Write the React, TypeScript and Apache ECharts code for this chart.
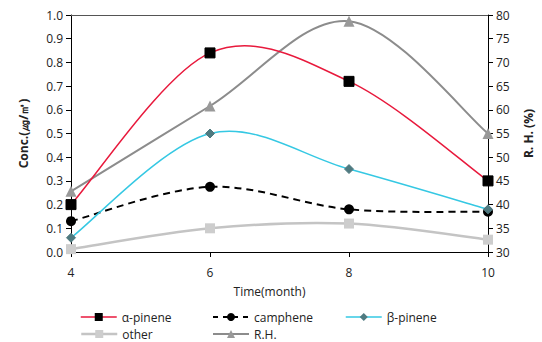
import React, { useEffect, useRef } from "react";
import * as echarts from "echarts";

const months = ["4", "6", "8", "10"];
const alphaPinene = [0.2, 0.84, 0.72, 0.3];
const camphene = [0.13, 0.275, 0.18, 0.17];
const betaPinene = [0.06, 0.5, 0.35, 0.18];
const other = [0.012, 0.1, 0.12, 0.052];
const rh = [42.8, 60.8, 78.7, 55];

const FONT = "'Open Sans', 'Liberation Sans', sans-serif";

// Catmull-Rom style smoothing (like spreadsheet smoothed lines), drawn through the axis scales
function smoothCurve(values: number[], yAxisIndex: number, lineStyle: any, z: number) {
  return {
    type: "custom",
    yAxisIndex,
    silent: true,
    z,
    data: [0],
    encode: { x: -1, y: -1 },
    legendHoverLink: false,
    renderItem: (_params: any, api: any) => {
      const pts = values.map((v, i) => api.coord([i, v]));
      const n = pts.length;
      let d = `M${pts[0][0]},${pts[0][1]}`;
      for (let i = 0; i < n - 1; i++) {
        const p0 = pts[Math.max(0, i - 1)];
        const p1 = pts[i];
        const p2 = pts[i + 1];
        const p3 = pts[Math.min(n - 1, i + 2)];
        const c1x = p1[0] + (p2[0] - p0[0]) / 6;
        const c1y = p1[1] + (p2[1] - p0[1]) / 6;
        const c2x = p2[0] - (p3[0] - p1[0]) / 6;
        const c2y = p2[1] - (p3[1] - p1[1]) / 6;
        d += ` C${c1x},${c1y} ${c2x},${c2y} ${p2[0]},${p2[1]}`;
      }
      return {
        type: "path",
        shape: { pathData: d },
        style: { fill: "none", stroke: lineStyle.color, lineWidth: lineStyle.width, lineDash: lineStyle.dash || null },
      };
    },
  };
}

const alphaLine = { color: "#e8193c", width: 1.5 };
const campheneLine = { color: "#000", width: 2, dash: [7, 5] };
const betaLine = { color: "#35c8e3", width: 1.5 };
const otherLine = { color: "#c4c4c4", width: 2.5 };
const rhLine = { color: "#8c8c8c", width: 2 };

export default function App() {
  const ref = useRef<HTMLDivElement>(null);
  useEffect(() => {
    if (!ref.current) return;
    const chart = echarts.init(ref.current, undefined, { renderer: "svg" });
    const legendBase = {
      orient: "horizontal" as const,
      itemWidth: 36,
      itemHeight: 10,
      itemGap: 6,
      textStyle: { fontFamily: FONT, fontSize: 12, lineHeight: 12, color: "#222" },
      padding: 0,
    };
    const li = (name: string, ls: any) => ({
      name,
      lineStyle: { color: ls.color, width: ls.width, opacity: 1, type: ls.dash ? [5, 5] : "solid" },
    });
    chart.setOption({
      animation: false,
      textStyle: { fontFamily: FONT },
      grid: { left: 71, right: 45, top: 15, bottom: 90, containLabel: false },
      legend: [
        { ...legendBase, left: 80, top: 311, data: [li("α-pinene", alphaLine)] },
        { ...legendBase, left: 212, top: 311, data: [li("camphene", campheneLine)] },
        { ...legendBase, left: 345, top: 311, data: [li("β-pinene", betaLine)] },
        { ...legendBase, left: 80, top: 328, data: [li("other", otherLine)] },
        { ...legendBase, left: 212, top: 328, data: [li("R.H.", rhLine)] },
      ],
      xAxis: [
        {
          type: "category",
          data: months,
          boundaryGap: false,
          name: "Time(month)",
          nameLocation: "middle",
          nameGap: 33,
          nameTextStyle: { fontFamily: FONT, fontSize: 12, color: "#222", padding: [0, 20, 0, 0] },
          axisLine: { lineStyle: { color: "#000", width: 1 } },
          axisTick: { show: true, length: 5, lineStyle: { color: "#000" } },
          axisLabel: { fontFamily: FONT, fontSize: 12, color: "#222", margin: 14 },
          splitLine: { show: false },
        },
        {
          type: "category",
          data: months,
          boundaryGap: false,
          position: "top",
          axisLine: { show: true, lineStyle: { color: "#555", width: 1 } },
          axisTick: { show: false },
          axisLabel: { show: false },
          splitLine: { show: false },
        },
      ],
      yAxis: [
        {
          type: "value",
          min: 0,
          max: 1,
          interval: 0.1,
          name: "Conc.(㎍/㎥)",
          nameLocation: "middle",
          nameGap: 42,
          nameTextStyle: { fontFamily: FONT, fontSize: 12, fontWeight: "bold", color: "#222" },
          axisLine: { show: true, lineStyle: { color: "#000" } },
          axisTick: { show: true, length: 5, lineStyle: { color: "#000" } },
          axisLabel: {
            fontFamily: FONT,
            fontSize: 12,
            color: "#222",
            margin: 8,
            formatter: (v: number) => v.toFixed(1),
          },
          splitLine: { show: false },
        },
        {
          type: "value",
          min: 30,
          max: 80,
          interval: 5,
          position: "right",
          name: "R. H. (%)",
          nameLocation: "middle",
          nameGap: 34,
          nameRotate: 90,
          nameTextStyle: { fontFamily: FONT, fontSize: 12, fontWeight: "bold", color: "#222" },
          axisLine: { show: true, lineStyle: { color: "#000" } },
          axisTick: { show: true, length: 5, lineStyle: { color: "#000" } },
          axisLabel: { fontFamily: FONT, fontSize: 12, color: "#222", margin: 8 },
          splitLine: { show: false },
        },
      ],
      series: [
        smoothCurve(alphaPinene, 0, alphaLine, 2),
        smoothCurve(camphene, 0, campheneLine, 2),
        smoothCurve(betaPinene, 0, betaLine, 2),
        smoothCurve(other, 0, otherLine, 1),
        smoothCurve(rh, 1, rhLine, 1),
        {
          name: "α-pinene",
          type: "line",
          data: alphaPinene,
          symbol: "rect",
          symbolSize: 10,
          lineStyle: { ...alphaLine, opacity: 0 },
          itemStyle: { color: "#000", borderColor: "#000" },
          z: 4,
        },
        {
          name: "camphene",
          type: "line",
          data: camphene,
          symbol: "circle",
          symbolSize: 10,
          lineStyle: { color: "#000", width: 2, opacity: 0 },
          itemStyle: { color: "#000" },
          z: 4,
        },
        {
          name: "β-pinene",
          type: "line",
          data: betaPinene,
          symbol: "diamond",
          symbolSize: 9,
          lineStyle: { ...betaLine, opacity: 0 },
          itemStyle: { color: "#4f7a80", borderColor: "#4f7a80" },
          z: 4,
        },
        {
          name: "other",
          type: "line",
          data: other,
          symbol: "rect",
          symbolSize: 10,
          lineStyle: { ...otherLine, opacity: 0 },
          itemStyle: { color: "#cdcdcd" },
          z: 3,
        },
        {
          name: "R.H.",
          type: "line",
          yAxisIndex: 1,
          data: rh,
          symbol: "triangle",
          symbolSize: 11,
          lineStyle: { ...rhLine, opacity: 0 },
          itemStyle: { color: "#999" },
          z: 3,
        },
      ],
    });
    return () => chart.dispose();
  }, []);
  return <div ref={ref} style={{ width: 542, height: 342, position: "absolute", left: 0, top: 0 }} />;
}
